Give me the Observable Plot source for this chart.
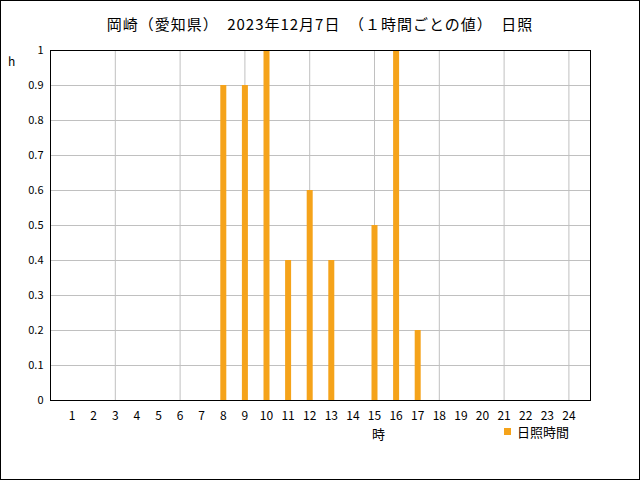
<!DOCTYPE html>
<html><head><meta charset="utf-8">
<script src="https://cdn.jsdelivr.net/npm/d3@7"></script>
<script src="https://cdn.jsdelivr.net/npm/@observablehq/plot@0.6"></script>
<style>
body{margin:0;background:#fff;}
#wrap{position:relative;width:640px;height:480px;font-family:"Noto Sans CJK JP",sans-serif;color:#000;}
#frame{position:absolute;left:0;top:0;width:640px;height:480px;box-sizing:border-box;border:1px solid #000;pointer-events:none;}
#title{position:absolute;left:0;top:14px;width:640px;text-align:center;font-size:15px;letter-spacing:1px;line-height:20px;white-space:pre;}
#ylab{position:absolute;left:8px;top:52px;font-size:12px;}
#xlab{position:absolute;left:372px;top:424px;font-size:13px;}
#legend{position:absolute;left:504px;top:424px;font-size:13px;line-height:16px;}
#legend span.sw{display:inline-block;width:7px;height:7px;background:#f5a31a;margin-right:6px;vertical-align:2px;}
#chart{position:absolute;left:0;top:0;}
</style></head>
<body>
<div id="wrap">
<div id="chart"></div>
<div id="title"></div>
<div id="ylab">h</div>
<div id="xlab">時</div>
<div id="legend"><span class="sw"></span>日照時間</div>
<div id="frame"></div>
</div>
<script>
const titleText = "岡崎（愛知県）　2023年12月7日　（１時間ごとの値）　日照";
const hours = [1,2,3,4,5,6,7,8,9,10,11,12,13,14,15,16,17,18,19,20,21,22,23,24];
const sunshine = [0,0,0,0,0,0,0,0.9,0.9,1.0,0.4,0.6,0.4,0,0.5,1.0,0.2,0,0,0,0,0,0,0];
const yTicks = [0,0.1,0.2,0.3,0.4,0.5,0.6,0.7,0.8,0.9,1];
const xGrid = [3,6,9,12,15,18,21,24];
const seriesName = "日照時間";

document.getElementById("title").textContent = titleText;
const data = hours.map((h,i)=>({h, v: sunshine[i]}));
const fmt = d3.format("~g");

const chart = Plot.plot({
  width: 640, height: 480,
  marginLeft: 50, marginRight: 50, marginTop: 50, marginBottom: 80,
  style: {fontFamily: '"Noto Sans CJK JP", sans-serif', fontSize: "11px", background: "transparent", color: "#000"},
  x: {domain: [0, 25], axis: null},
  y: {domain: [0, 1], axis: null},
  marks: [
    Plot.ruleY(yTicks.filter(d=>d>0 && d<1), {stroke: "#c0c0c0", strokeOpacity: 1}),
    Plot.ruleX(xGrid, {stroke: "#c0c0c0", strokeOpacity: 1}),
    Plot.ruleX(data.filter(d=>d.v>0), {x: "h", y1: 0, y2: "v", stroke: "#f5a31a", strokeWidth: 6}),
    Plot.frame({stroke: "#000", strokeWidth: 1}),
    Plot.axisX(hours, {tickSize: 0, tickPadding: 11, label: null, tickFormat: d=>String(d), fontSize: 12}),
    Plot.axisY(yTicks, {tickSize: 0, tickPadding: 7, label: null, tickFormat: fmt})
  ]
});
document.getElementById("chart").appendChild(chart);
</script>
</body></html>
